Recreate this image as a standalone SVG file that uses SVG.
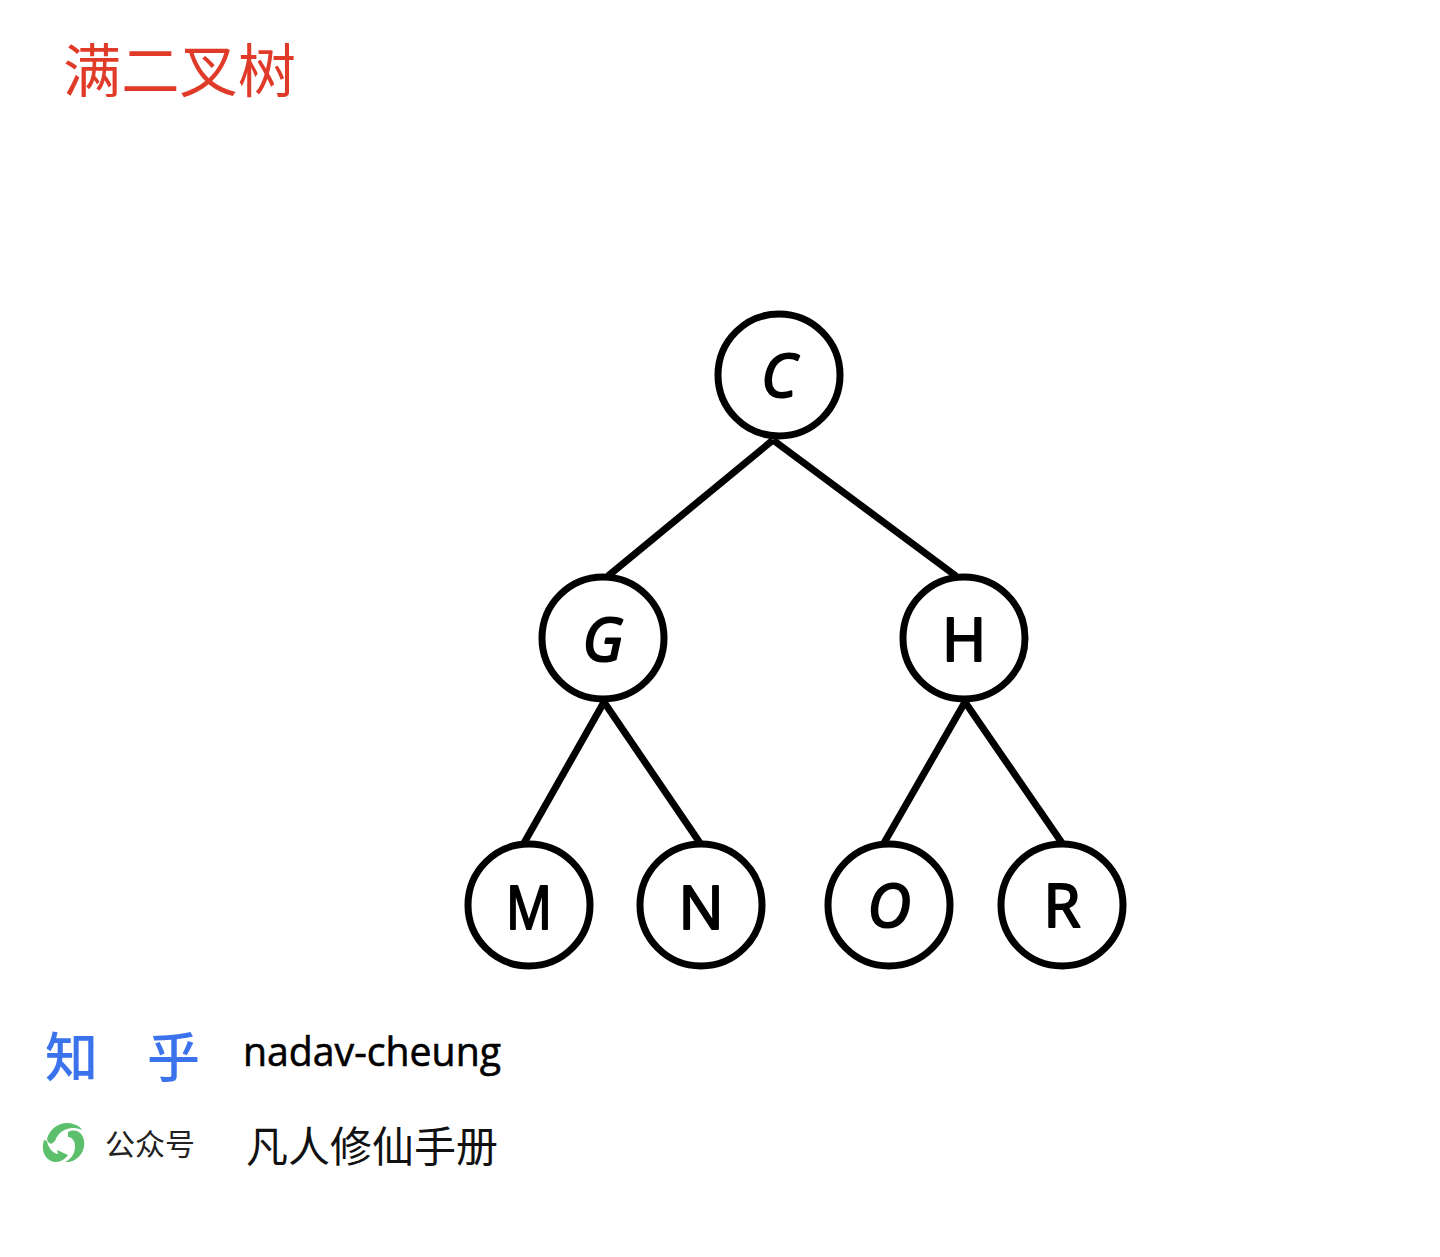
<svg xmlns="http://www.w3.org/2000/svg" width="1440" height="1257" viewBox="0 0 1440 1257">
<style>
.n{fill:#fff;stroke:#000;stroke-width:7}
.e{stroke:#000;stroke-width:7;fill:none}
.l{font-family:"Open Sans","Noto Sans",sans-serif;font-size:60px;font-weight:400;fill:#000;text-anchor:middle;stroke:#000;stroke-width:2.200;stroke-linejoin:round}
.i{font-style:italic}
.cjk{font-family:"Noto Sans CJK SC",sans-serif}
.logo{fill:#5cbf6c}
</style>
<rect width="1440" height="1257" fill="#fff"/>
<text id="title" class="cjk" x="63" y="92" font-size="57.500" font-weight="400" fill="#e03a28" textLength="233" lengthAdjust="spacingAndGlyphs">满二叉树</text>
<g id="connectors">
<line class="e" x1="773" y1="440" x2="608" y2="576"/>
<line class="e" x1="773" y1="440" x2="956" y2="576"/>
<line class="e" x1="604" y1="702" x2="524" y2="843"/>
<line class="e" x1="604" y1="702" x2="700" y2="843"/>
<line class="e" x1="965" y1="702" x2="884" y2="843"/>
<line class="e" x1="965" y1="702" x2="1062" y2="843"/>
</g>
<g id="node-c"><circle class="n" cx="779" cy="375" r="61"/><text class="l i" x="779" y="397">C</text></g>
<g id="node-g"><circle class="n" cx="603" cy="638" r="61"/><text class="l i" x="603" y="661">G</text></g>
<g id="node-h"><circle class="n" cx="964" cy="638" r="61"/><text class="l" x="964" y="661">H</text></g>
<g id="node-m"><circle class="n" cx="529" cy="905" r="61"/><text class="l" x="529" y="929" textLength="46" lengthAdjust="spacingAndGlyphs">M</text></g>
<g id="node-n"><circle class="n" cx="701" cy="905" r="61"/><text class="l" x="701" y="929">N</text></g>
<g id="node-o"><circle class="n" cx="889" cy="905" r="61"/><text class="l i" x="889" y="927">O</text></g>
<g id="node-r"><circle class="n" cx="1062" cy="905" r="61"/><text class="l" x="1062" y="927">R</text></g>
<g id="footer">
<text class="cjk" x="45" y="1077" font-size="53" font-weight="500" fill="#3b73ed">知</text>
<text class="cjk" x="147" y="1077" font-size="53" font-weight="500" fill="#3b73ed">乎</text>
<text x="243" y="1066" font-family="'Open Sans',sans-serif" font-size="40" font-weight="500" fill="#000" stroke="#000" stroke-width=".6" textLength="258" lengthAdjust="spacingAndGlyphs">nadav-cheung</text>
<g id="logo">
<path class="logo" d="M47 1139C50 1127 63 1119 76 1125C79 1126 81 1128 82 1130C70 1125 59 1130 55 1141L51 1144C49 1143 47 1141 47 1139Z"/>
<path class="logo" d="M68 1132C78 1127 86 1136 84 1147C82 1156 74 1163 65 1162C73 1158 75 1152 75 1146C75 1141 72 1137 68 1137Z"/>
<path class="logo" d="M44 1140C40 1152 47 1162 56 1162C61 1162 65 1159 68 1155L57 1150L58 1154C52 1153 48 1147 47 1141Z"/>
</g>
<text class="cjk" x="105" y="1155" font-size="30" font-weight="400" fill="#222" textLength="90" lengthAdjust="spacing">公众号</text>
<text class="cjk" x="246" y="1162" font-size="42" font-weight="400" fill="#111" textLength="252" lengthAdjust="spacing">凡人修仙手册</text>
</g>
</svg>
